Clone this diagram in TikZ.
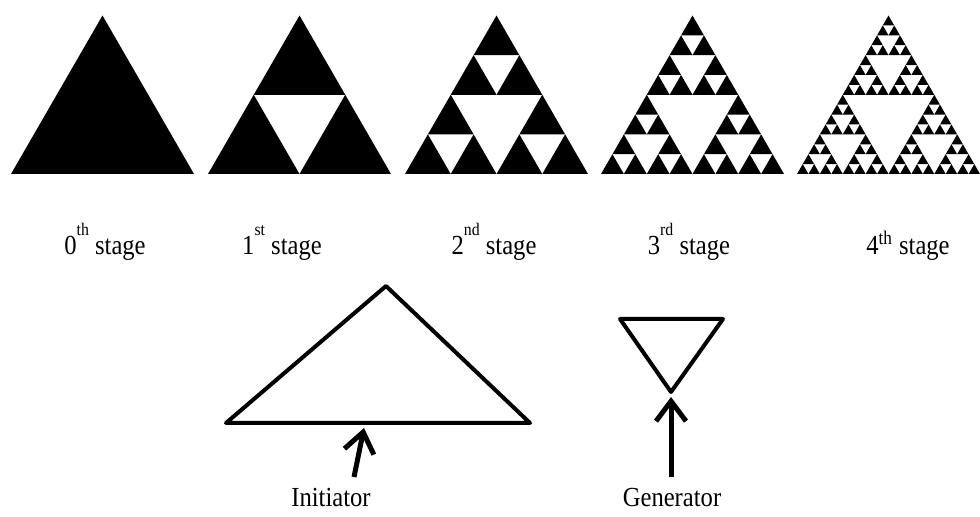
\documentclass[tikz,border=0pt]{standalone}
\usepackage{fontspec}
\setmainfont{Liberation Serif}
\usetikzlibrary{arrows.meta}
% raised ordinal mark over the digit
\newcommand\stagesup[1]{\raisebox{0.72em}{\fontsize{9}{9}\selectfont #1}}
% Sierpinski fill of the unit triangle, #1 = depth
\newcommand\sierp[1]{%
  \ifnum#1<1
    \fill (0,0) -- (1,0) -- (60:1) -- cycle;
  \else
    \begin{scope}[scale=0.5]\sierp{\numexpr#1-1\relax}\end{scope}
    \begin{scope}[shift={(0.5,0)},scale=0.5]\sierp{\numexpr#1-1\relax}\end{scope}
    \begin{scope}[shift={(60:0.5)},scale=0.5]\sierp{\numexpr#1-1\relax}\end{scope}
  \fi}

\begin{document}
\begin{tikzpicture}[
  x=0.2mm, y=0.2mm,
  stagelbl/.style={anchor=base, inner sep=0pt, yscale=1.12, font=\fontsize{14}{17}\selectfont},
  outline/.style={line width=0.8mm, line join=round},
  arr/.style={line width=1mm, -{Straight Barb[length=4mm, width=6mm]}},
]
\useasboundingbox (0,0) rectangle (980,516);
% the five stages
\foreach \n/\x in {0/11,1/208,2/405,3/601,4/797}{
  \begin{scope}[shift={(\x,342)}, scale=183]\sierp{\n}\end{scope}
}
\node[stagelbl] (lbl0) at (105,261) {0\stagesup{th} stage};
\node[stagelbl] (lbl1) at (282,261) {1\stagesup{st} stage};
\node[stagelbl] (lbl2) at (494,261) {2\stagesup{nd} stage};
\node[stagelbl] (lbl3) at (689,261) {3\stagesup{rd} stage};
\node[stagelbl] (lbl4) at (908,261) {4\textsuperscript{th} stage};
% initiator
\draw[outline] (226,93) -- (530,93) -- (386,230) -- cycle;
\coordinate (inittail) at (354,39);
\coordinate (inittip) at (364,88);
\draw[arr] (inittail) -- (inittip);
\node[stagelbl] (initlbl) at (331,10) {Initiator};
% generator
\draw[outline] (620,197) -- (723,197) -- (671,124) -- cycle;
\coordinate (gentail) at (671,39);
\coordinate (gentip) at (671,119);
\draw[arr] (gentail) -- (gentip);
\node[stagelbl] (genlbl) at (672,10) {Generator};
\end{tikzpicture}
\end{document}
